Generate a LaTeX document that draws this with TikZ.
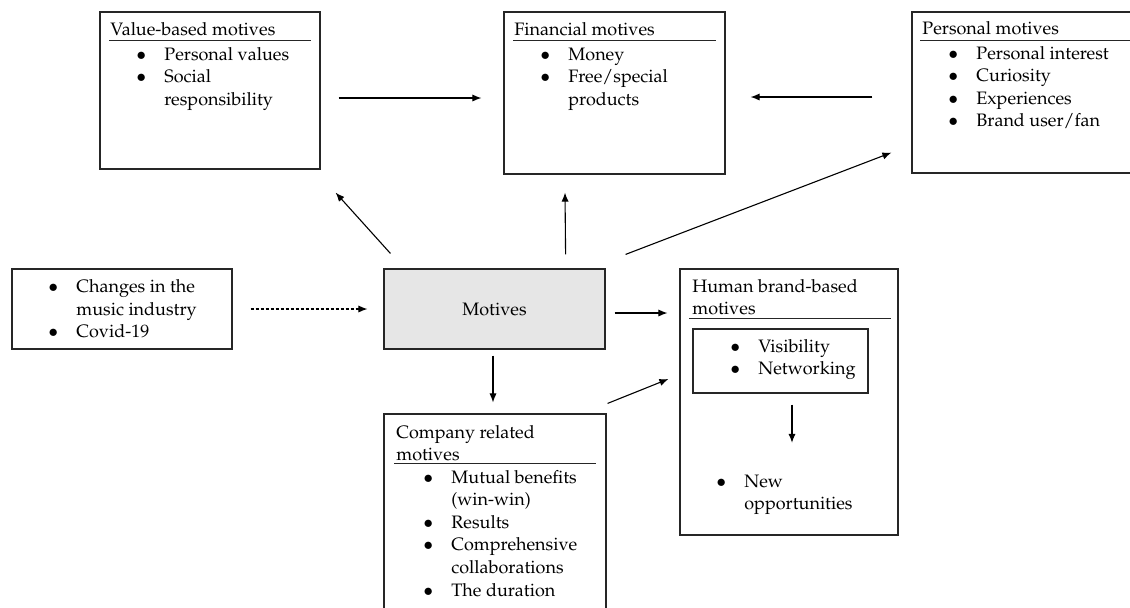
\documentclass[tikz,border=0pt]{standalone}
\usepackage[T1]{fontenc}
\usepackage{mathpazo}
\usepackage{xcolor}
\usepackage{tikz}
\usetikzlibrary{arrows.meta}
\usetikzlibrary{backgrounds,positioning,calc}
\pgfdeclarelayer{edgelayer}
\pgfdeclarelayer{nodelayer}
\pgfsetlayers{background,edgelayer,nodelayer,main}
\definecolor{motivegray}{RGB}{230,230,230}
\newcommand{\bl}{\makebox[0pt]{$\bullet$}\hspace{11.5pt}}
\newcommand{\ind}{\hspace*{11.5pt}}
\tikzstyle{none}=[inner sep=0mm]
\tikzstyle{box}=[draw=black!85,line width=0.6pt,shape=rectangle,inner sep=0pt]
\tikzstyle{txt}=[inner sep=0pt,anchor=base west,font=\fontsize{9}{11.3}\selectfont]
\tikzstyle{rule}=[draw=black!85,line width=0.6pt]
\tikzstyle{arr}=[draw=black,line width=0.55pt,-{Latex[length=4.5pt,width=3.6pt]}]
\tikzstyle{dotarr}=[arr,dash pattern=on 1.5pt off 1pt]

\begin{document}
\begin{tikzpicture}[x=0.5pt,y=-0.5pt]
	\useasboundingbox (0,0) rectangle (1130,607);
	\clip (0,0) rectangle (1130,607);
	\begin{pgfonlayer}{nodelayer}
		% boxes
		\node [style=box, minimum width=110pt, minimum height=78.5pt] (value) at (210,90.5) {};
		\node [style=box, minimum width=110.5pt, minimum height=81pt] (fin) at (614.5,93) {};
		\node [style=box, minimum width=112pt, minimum height=80.5pt] (pers) at (1024,92.5) {};
		\node [style=box, minimum width=110pt, minimum height=40pt] (left) at (122,309) {};
		\node [style=box, fill=motivegray, minimum width=110.5pt, minimum height=40pt] (motives) at (494.5,309) {};
		\node [style=box, minimum width=109pt, minimum height=133pt] (human) at (789,402) {};
		\node [style=box, minimum width=87.5pt, minimum height=32pt] (inner) at (780.5,361) {};
		\node [style=box, minimum width=111pt, minimum height=103pt] (company) at (495,517) {};
		% texts
		\node [style=txt] (valuet) at (110,35) {Value-based motives};
		\node [style=txt] (valuel) at (141,60) {\begin{tabular}[t]{@{}l@{}}\bl Personal values\\ \bl Social\\ \ind responsibility\end{tabular}};
		\node [style=txt] (fint) at (514,35) {Financial motives};
		\node [style=txt] (finl) at (545,60) {\begin{tabular}[t]{@{}l@{}}\bl Money\\ \bl Free/special\\ \ind products\end{tabular}};
		\node [style=txt] (perst) at (922,34) {Personal motives};
		\node [style=txt] (persl) at (953,59) {\begin{tabular}[t]{@{}l@{}}\bl Personal interest\\ \bl Curiosity\\ \bl Experiences\\ \bl Brand user/fan\end{tabular}};
		\node [style=txt] (leftl) at (53,292.5) {\begin{tabular}[t]{@{}l@{}}\bl Changes in the\\ \ind music industry\\ \bl Covid-19\end{tabular}};
		\node [style=txt, anchor=center] (motivest) at (motives.center) {Motives};
		\node [style=txt] (humant) at (692,292) {\begin{tabular}[t]{@{}l@{}}Human brand-based\\ motives\end{tabular}};
		\node [style=txt] (innerl) at (735,352) {\begin{tabular}[t]{@{}l@{}}\bl Visibility\\ \bl Networking\end{tabular}};
		\node [style=txt] (newl) at (721,487) {\begin{tabular}[t]{@{}l@{}}\bl New\\ \ind opportunities\end{tabular}};
		\node [style=txt] (companyt) at (396,438) {\begin{tabular}[t]{@{}l@{}}Company related\\ motives\end{tabular}};
		\node [style=txt] (companyl) at (428,483) {\begin{tabular}[t]{@{}l@{}}\bl Mutual benefits\\ \ind (win-win)\\ \bl Results\\ \bl Comprehensive\\ \ind collaborations\\ \bl The duration\end{tabular}};
	\end{pgfonlayer}
	\begin{pgfonlayer}{edgelayer}
		% title rules
		\draw [style=rule] ([shift={(5pt,-14.5pt)}]value.north west) to ([shift={(-5pt,-14.5pt)}]value.north east);
		\draw [style=rule] ([shift={(5pt,-14.5pt)}]fin.north west) to ([shift={(-5pt,-14.5pt)}]fin.north east);
		\draw [style=rule] ([shift={(4.5pt,-14.5pt)}]pers.north west) to ([shift={(0pt,-14.5pt)}]pers.north east);
		\draw [style=rule] ([shift={(5pt,-25pt)}]human.north west) to ([shift={(-4pt,-25pt)}]human.north east);
		\draw [style=rule] ([shift={(5.5pt,-25pt)}]company.north west) to ([shift={(-5.5pt,-25pt)}]company.north east);
		% arrows
		\draw [style=arr, shorten <=9pt, shorten >=11pt] ([yshift=-3.75pt]value.east) to ([yshift=-2.5pt]fin.west);
		\draw [style=arr, shorten <=19.5pt, shorten >=12.5pt] ([yshift=-2.25pt]pers.west) to ([yshift=-2pt]fin.east);
		\draw [style=arr] ([shift={(3.5pt,7.5pt)}]motives.north west) to ([shift={(7.5pt,-11.5pt)}]value.south east);
		\draw [style=arr] ([shift={(-20pt,7pt)}]motives.north east) to ([shift={(-24.75pt,-9pt)}]fin.south);
		\draw [style=arr] ([shift={(10pt,7pt)}]motives.north east) to ([shift={(-10pt,10.5pt)}]pers.south west);
		\draw [style=dotarr, shorten <=9pt, shorten >=8pt] (left.east) to (motives.west);
		\draw [style=arr] ([shift={(4.5pt,-2pt)}]motives.east) to ([shift={(-6pt,44.5pt)}]human.west);
		\draw [style=arr] ([shift={(-0.75pt,-3pt)}]motives.south) to ([shift={(-1pt,5.5pt)}]company.north);
		\draw [style=arr] ([shift={(0.5pt,5pt)}]company.north east) to ([shift={(-5.5pt,11.5pt)}]human.west);
		\draw [style=arr, shorten >=14pt] ([shift={(5.75pt,-5.5pt)}]inner.south) to ([xshift=5.75pt]inner.south |- newl.north);
	\end{pgfonlayer}
\end{tikzpicture}
\end{document}
